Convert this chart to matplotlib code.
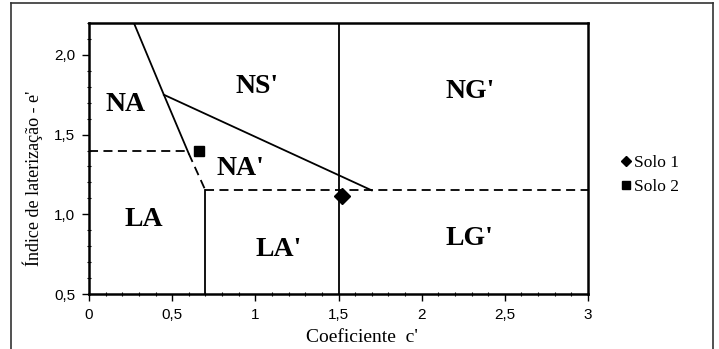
import matplotlib
matplotlib.use("Agg")
import matplotlib.pyplot as plt
from matplotlib.lines import Line2D

# Boundary lines (c', e')
steep_solid_c = [0.27, 0.45, 0.60]
steep_solid_e = [2.20, 1.75, 1.38]
steep_dash_c = [0.60, 0.70]
steep_dash_e = [1.38, 1.15]
na_ns_c = [0.45, 1.70]
na_ns_e = [1.75, 1.15]
vert15_c = [1.5, 1.5]
vert15_e = [0.5, 2.2]
vert07_c = [0.70, 0.70]
vert07_e = [0.5, 1.15]
dash14_c = [0.0, 0.59]
dash14_e = [1.40, 1.40]
dash115_c = [0.70, 3.0]
dash115_e = [1.15, 1.15]

# Samples
solo1 = (1.52, 1.115)
solo2 = (0.66, 1.40)

# Region labels
regions = ["NA", "NS'", "NA'", "LA", "LA'", "NG'", "LG'"]
reg_c = [0.22, 1.01, 0.91, 0.33, 1.14, 2.29, 2.29]
reg_e = [1.69, 1.80, 1.29, 0.965, 0.78, 1.77, 0.85]

W, H = 719, 349
fig = plt.figure(figsize=(W / 100, H / 100), dpi=100)
ax = fig.add_axes([89 / W, 1 - 294 / H, (588 - 89) / W, (294 - 23) / H])

lw = 1.3
ax.plot(steep_solid_c, steep_solid_e, color="black", lw=lw)
ax.plot(steep_dash_c, steep_dash_e, color="black", lw=lw, ls=(0, (5, 3)))
ax.plot(na_ns_c, na_ns_e, color="black", lw=lw)
ax.plot(vert15_c, vert15_e, color="black", lw=lw)
ax.plot(vert07_c, vert07_e, color="black", lw=lw)
ax.plot(dash14_c, dash14_e, color="black", lw=lw, ls=(0, (5, 3)))
ax.plot(dash115_c, dash115_e, color="black", lw=lw, ls=(0, (5, 3)))

ax.plot([solo1[0]], [solo1[1]], marker="D", color="black", ms=8, ls="none", zorder=5)
ax.plot([solo2[0]], [solo2[1]], marker="s", color="black", ms=7, ls="none", zorder=5)

for name, c, e in zip(regions, reg_c, reg_e):
    ax.text(c, e, name, ha="center", va="center", fontsize=20, fontweight="bold",
            family="Liberation Serif")

ax.set_xlim(0, 3)
ax.set_ylim(0.5, 2.2)
xt = [0, 0.5, 1, 1.5, 2, 2.5, 3]
xtl = ["0", "0,5", "1", "1,5", "2", "2,5", "3"]
yt = [0.5, 1.0, 1.5, 2.0]
ytl = ["0,5", "1,0", "1,5", "2,0"]
ax.set_xticks(xt)
ax.set_xticklabels(xtl, family="Liberation Sans", fontsize=11)
ax.set_yticks(yt)
ax.set_yticklabels(ytl, family="Liberation Sans", fontsize=11)
ax.set_xticks([i / 10 for i in range(31)], minor=True)
ax.set_yticks([0.5 + i / 10 for i in range(18)], minor=True)
ax.tick_params(which="major", direction="out", length=5, width=1, pad=5)
ax.tick_params(which="minor", direction="inout", length=3, width=0.8)
for s in ax.spines.values():
    s.set_linewidth(1.8)

ax.set_xlabel("Coeficiente  c'", family="Liberation Serif", fontsize=14)
ax.xaxis.set_label_coords((362 - 89) / (588 - 89), -(338 - 294) / (294 - 23))
ax.set_ylabel("Índice de laterização - e'", family="Liberation Serif", fontsize=13)
ax.yaxis.set_label_coords((33 - 89) / (588 - 89), (294 - 178) / (294 - 23))
ax.xaxis.label.set_va("center")
ax.yaxis.label.set_va("center")

handles = [Line2D([], [], marker="D", color="black", ls="none", ms=5),
           Line2D([], [], marker="s", color="black", ls="none", ms=5.5)]
leg = fig.legend(handles, ["Solo 1", "Solo 2"], loc="center left",
                 bbox_to_anchor=(605 / W, 1 - 175 / H), frameon=False,
                 prop={"family": "Liberation Serif", "size": 12.5},
                 handlelength=0.6, handletextpad=0.15, labelspacing=0.5)

# Outer border
bc = "#333333"
fig.add_artist(Line2D([11 / W, 11 / W], [0, 1 - 3 / H], transform=fig.transFigure, color=bc, lw=1.2))
fig.add_artist(Line2D([11 / W, 713 / W], [1 - 3 / H, 1 - 3 / H], transform=fig.transFigure, color=bc, lw=1.2))
fig.add_artist(Line2D([713 / W, 713 / W], [0, 1 - 3 / H], transform=fig.transFigure, color=bc, lw=1.2))

fig.savefig("out.png", dpi=100)
